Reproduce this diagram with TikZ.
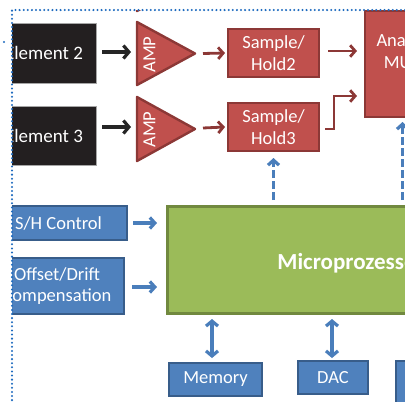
\documentclass[tikz,border=0pt]{standalone}
\usepackage{fontspec}
\setmainfont{Carlito}
\usetikzlibrary{arrows.meta}
\definecolor{redfill}{HTML}{C0504D}
\definecolor{redline}{HTML}{8C3836}
\definecolor{bluefill}{HTML}{4F81BD}
\definecolor{blueline}{HTML}{385D8A}
\definecolor{greenfill}{HTML}{9BBB59}
\definecolor{greenline}{HTML}{71893F}
\definecolor{elemfill}{HTML}{231F20}
\definecolor{dotblue}{HTML}{1F6BBF}
\definecolor{arrowblue}{HTML}{4A7EBB}
\newcommand\fsMain{\fontsize{18.5}{21.5}\selectfont}
\newcommand\fsElem{\fontsize{19}{22}\selectfont}
\newcommand\fsBig{\fontsize{23}{27}\selectfont\bfseries}
\begin{document}
\begin{tikzpicture}[x=1pt,y=-1pt,
  box/.style={line width=2.6pt, text=white, font=\fsMain, align=center, inner sep=0pt, outer sep=0pt},
  redbox/.style={box, fill=redfill, draw=redline},
  bluebox/.style={box, fill=bluefill, draw=blueline},
  elembox/.style={box, fill=elemfill, draw=gray!70, line width=0.8pt, font=\fsElem},
  greenbox/.style={box, fill=greenfill, draw=greenline, line width=3pt},
  labeltext/.style={text=white, inner sep=0pt, align=center},
  ampshape/.style={fill=redfill, draw=redline, line width=2.4pt, line join=round},
  amptext/.style={text=white, font=\fsMain, rotate=90, inner sep=0pt},
  blackarrow/.style={draw=black!85, line width=3.2pt, -{Straight Barb[length=5.5pt,width=13pt]}},
  redarrow/.style={draw=redline, line width=2.8pt, -{Straight Barb[length=5pt,width=11.5pt]}},
  bluearrow/.style={draw=arrowblue, line width=3.2pt, -{Straight Barb[length=5pt,width=11pt]}},
  bluedash/.style={bluearrow, dash pattern=on 8pt off 3pt},
  bluedouble/.style={draw=arrowblue, line width=3.2pt, {Straight Barb[length=5pt,width=12pt]}-{Straight Barb[length=5pt,width=12pt]}},
  dotline/.style={draw=dotblue, line width=2.3pt, dash pattern=on 0pt off 4.1pt, line cap=round}
]
\useasboundingbox (0,0) rectangle (405,402);
\begin{scope}
\clip (12,10) rectangle (405,402);
% element boxes
\node[elembox, minimum width=104pt, minimum height=60pt] (e2) at (44,53) {Element 2};
\node[elembox, minimum width=104pt, minimum height=59pt] (e3) at (44,135.5) {Element 3};
% amplifiers
\draw[ampshape] (137,-52) -- (195,-20.5) -- (137,11) -- cycle;
\draw[ampshape] (137,22) -- (195,53.5) -- (137,85) -- cycle;
\draw[ampshape] (137,97) -- (195,129) -- (137,161) -- cycle;
\coordinate (a2w) at (137,52);
\coordinate (a2t) at (195,53.5);
\coordinate (a3w) at (137,127);
\coordinate (a3t) at (195,128);
\node[amptext] (amp2) at (149.5,54.5) {AMP};
\node[amptext] (amp3) at (149.5,129.5) {AMP};
% sample/hold
\node[redbox, minimum width=91pt, minimum height=48pt] (sh2) at (273.5,53) {Sample/\\Hold2};
\node[redbox, minimum width=91pt, minimum height=48pt] (sh3) at (273.5,127) {Sample/\\Hold3};
% mux
\node[redbox, minimum width=75pt, minimum height=106.5pt] (mux) at (402.5,63.75) {};
\node[labeltext, font=\fsMain] (muxt) at (402.5,51) {Analog\\MUX};
% control boxes
\node[bluebox, minimum width=137pt, minimum height=34pt] (shc) at (58.5,223) {S/H Control};
\node[bluebox, minimum width=134pt, minimum height=56pt] (off) at (57,286) {Offset/Drift\\Compensation};
% microprocessor
\node[greenbox, minimum width=368pt, minimum height=107.5pt] (mp) at (351,259.75) {};
\node[labeltext, font=\fsBig, anchor=base] (mpt) at (351,269) {Microprozessor};
% bottom boxes
\node[bluebox, minimum width=93pt, minimum height=33pt] (mem) at (215.5,379.5) {Memory};
\node[bluebox, minimum width=70pt, minimum height=33pt] (dac) at (333,377.5) {DAC};
\node[bluebox, minimum width=64pt, minimum height=58pt] (b3) at (428,390) {};
% helper coordinates
\coordinate (p1) at (mp.west |- shc.east);
\coordinate (p2) at (mp.west |- off.east);
\coordinate (q1) at (sh3.south |- mp.north);
\coordinate (q2) at (mux.south |- mp.north);
\coordinate (r1) at (mem.north |- mp.south);
\coordinate (r2) at (dac.north |- mp.south);
% connectors
\draw[blackarrow] ([shift={(6pt,1pt)}]e2.east) -- ([xshift=-6pt]a2w);
\draw[blackarrow] ([shift={(6pt,8.5pt)}]e3.east) -- ([xshift=-6pt]a3w);
\draw[redarrow] ([xshift=8pt]a2t) -- ([xshift=-3pt]sh2.west);
\draw[redarrow] ([xshift=8pt]a3t) -- ([xshift=-3pt]sh3.west);
\draw[redarrow] ([shift={(9pt,2pt)}]sh2.east) -- ([shift={(-8pt,12.75pt)}]mux.west);
\draw[redarrow] ([shift={(6pt,-2pt)}]sh3.east) -- ++(9,0) |- ([shift={(-8pt,-32.25pt)}]mux.west);
\draw[bluearrow] ([xshift=6pt]shc.east) -- ([xshift=-10pt]p1);
\draw[bluearrow] ([shift={(8pt,-1pt)}]off.east) -- ([shift={(-10pt,-1pt)}]p2);
\draw[bluedash] ([yshift=6pt]q1) -- ([yshift=-7pt]sh3.south);
\draw[bluedash] ([yshift=6pt]q2) -- ([yshift=-5pt]mux.south);
\draw[bluedouble] ([shift={(-3.5pt,-5.5pt)}]r1) -- ([shift={(-3.5pt,5pt)}]mem.north);
\draw[bluedouble] ([shift={(-1pt,-5.5pt)}]r2) -- ([shift={(-1pt,3pt)}]dac.north);
\end{scope}
% frame
\draw[dotline] (405,10) -- (12,10) -- (12,402);
\fill[dotblue] (4,42) circle (1.2pt);
\end{tikzpicture}
\end{document}
